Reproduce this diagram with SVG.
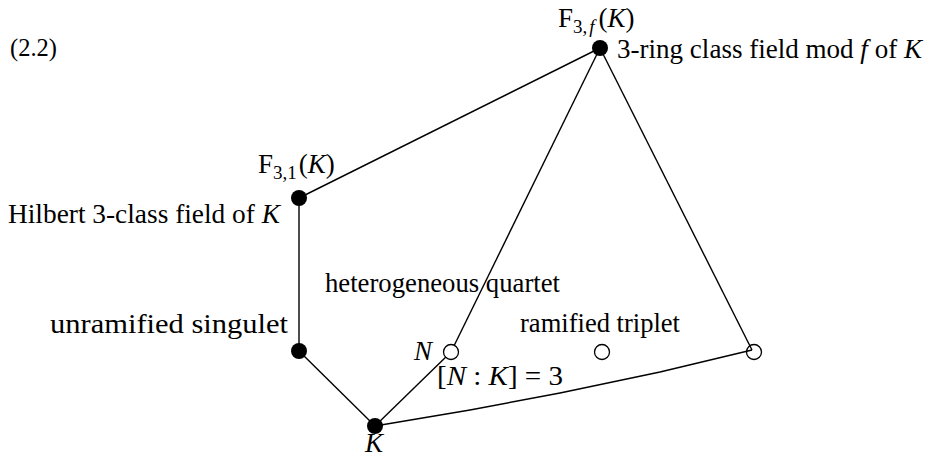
<svg xmlns="http://www.w3.org/2000/svg" width="928" height="459" viewBox="0 0 928 459">
<style>
.t{font-family:'Liberation Serif','Times New Roman',serif;font-size:27px;fill:#000}
.it{font-style:italic}
.sub{font-size:19px}
.edge{stroke:#000;stroke-width:1.4;fill:none}
.full{fill:#000}
.open{fill:#fff;stroke:#000;stroke-width:1.3}
</style>
<rect width="928" height="459" fill="#fff"/>
<g class="t">
<text x="10" y="56" style="font-size:24.5px">(2.2)</text>
</g>
<g id="connectors">
<line class="edge" x1="600" y1="48" x2="299" y2="198"/>
<line class="edge" x1="600" y1="48" x2="451" y2="352"/>
<line class="edge" x1="600" y1="48" x2="752" y2="350"/>
<line class="edge" x1="299" y1="198" x2="299" y2="351"/>
<line class="edge" x1="299" y1="351" x2="375" y2="426"/>
<line class="edge" x1="375" y1="426" x2="451" y2="352"/>
<path class="edge" d="M375 426 L470 410 L560 393 L660 372 L752 350"/>
</g>
<g class="t">
<g id="n-F3f">
<circle class="full" cx="600" cy="48" r="8"/>
<text x="558" y="27">F<tspan class="sub" dy="6">3,</tspan><tspan class="sub it" dx="2">f</tspan><tspan dy="-6" dx="4">(</tspan><tspan class="it">K</tspan>)</text>
<text x="617" y="58" textLength="305" lengthAdjust="spacingAndGlyphs">3-ring class field mod <tspan class="it">f</tspan> of <tspan class="it">K</tspan></text>
</g>
<g id="n-F31">
<circle class="full" cx="299" cy="198" r="8"/>
<text x="258" y="173">F<tspan class="sub" dy="6">3,1</tspan><tspan dy="-6" dx="2">(</tspan><tspan class="it">K</tspan>)</text>
<text x="8" y="223" textLength="272" lengthAdjust="spacingAndGlyphs">Hilbert 3-class field of <tspan class="it">K</tspan></text>
</g>
<g id="n-singulet">
<circle class="full" cx="299" cy="351" r="8"/>
<text x="50" y="333" textLength="238" lengthAdjust="spacingAndGlyphs">unramified singulet</text>
</g>
<g id="n-K">
<circle class="full" cx="375" cy="426" r="8"/>
<text x="365" y="452" class="it">K</text>
</g>
<g id="n-N">
<circle class="open" cx="451" cy="352" r="7.5"/>
<text x="414" y="360" class="it">N</text>
<text x="325" y="292" textLength="235" lengthAdjust="spacingAndGlyphs">heterogeneous quartet</text>
<text x="437" y="385" textLength="126" lengthAdjust="spacingAndGlyphs">[<tspan class="it">N</tspan> : <tspan class="it">K</tspan>] = 3</text>
</g>
<g id="n-mid">
<circle class="open" cx="602" cy="352" r="7.5"/>
<text x="520" y="332" textLength="160" lengthAdjust="spacingAndGlyphs">ramified triplet</text>
</g>
<g id="n-right">
<circle class="open" cx="754" cy="352" r="7.5" style="fill:none"/>
</g>
</g>
</svg>
